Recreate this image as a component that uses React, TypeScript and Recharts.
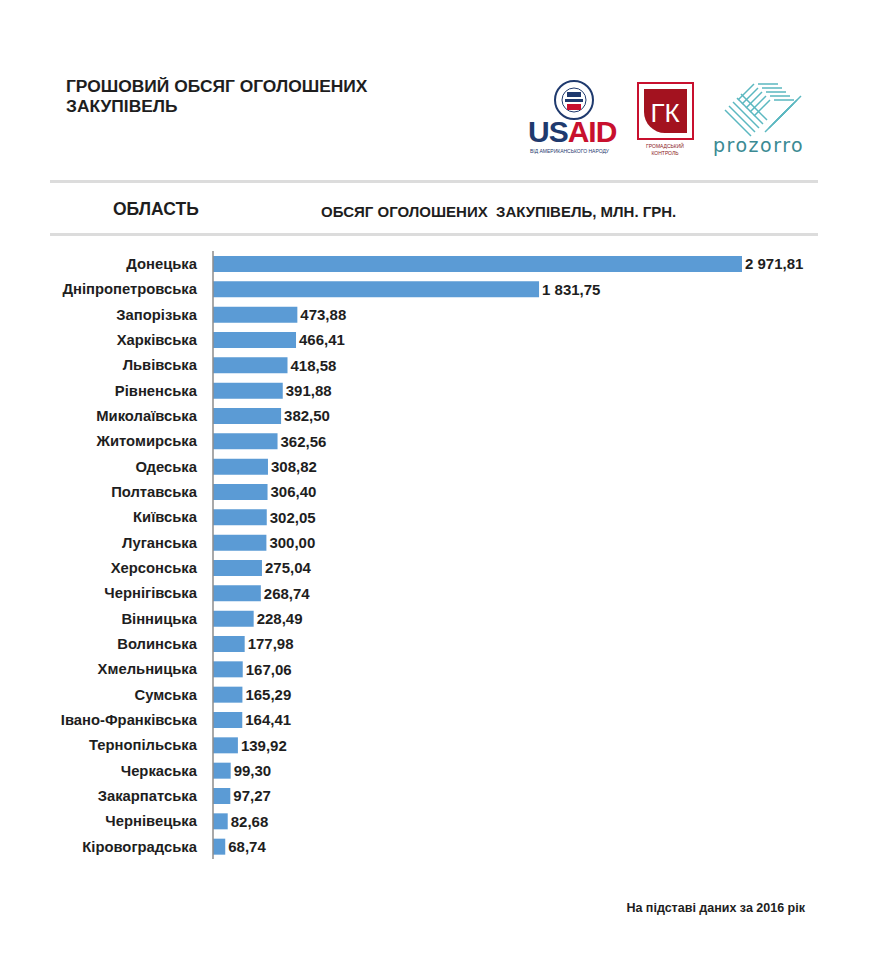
import { BarChart, Bar, XAxis, YAxis, LabelList } from 'recharts'

const regions = [
  'Донецька', 'Дніпропетровська', 'Запорізька', 'Харківська', 'Львівська', 'Рівненська',
  'Миколаївська', 'Житомирська', 'Одеська', 'Полтавська', 'Київська', 'Луганська',
  'Херсонська', 'Чернігівська', 'Вінницька', 'Волинська', 'Хмельницька', 'Сумська',
  'Івано-Франківська', 'Тернопільська', 'Черкаська', 'Закарпатська', 'Чернівецька', 'Кіровоградська',
]

const volumes = [
  2971.81, 1831.75, 473.88, 466.41, 418.58, 391.88,
  382.5, 362.56, 308.82, 306.4, 302.05, 300.0,
  275.04, 268.74, 228.49, 177.98, 167.06, 165.29,
  164.41, 139.92, 99.3, 97.27, 82.68, 68.74,
]

const data = regions.map((name, i) => ({ name, value: volumes[i] }))

const BAR = '#5b9bd5'
const TEXT = '#1e1e1e'
const FONT = '"Liberation Sans", Arial, sans-serif'

// 2971.81 -> "2 971,81"
const fmt = (v: number) => {
  const [int, dec] = Number(v).toFixed(2).split('.')
  return int.replace(/\B(?=(\d{3})+(?!\d))/g, ' ') + ',' + dec
}

function Logos() {
  return (
    <svg width={300} height={90} style={{ position: 'absolute', left: 520, top: 72 }}>
      {/* USAID */}
      <circle cx={54} cy={28} r={19} fill="#fff" stroke="#1f3a6e" strokeWidth={2} />
      <circle cx={54} cy={28} r={12} fill="#fff" stroke="#1f3a6e" strokeWidth={1} />
      <rect x={47} y={20} width={14} height={5} fill="#1f3a6e" />
      <rect x={45} y={27} width={18} height={3} fill="#1f3a6e" />
      <rect x={47} y={32} width={14} height={6} fill="#c8102e" />
      <text x={8} y={70} fontFamily={FONT} fontWeight="bold" fontSize={30} letterSpacing={-1}>
        <tspan fill="#1f3a6e">US</tspan>
        <tspan fill="#c8102e">AID</tspan>
      </text>
      <text x={10} y={81} fontFamily={FONT} fontSize={5} fill="#1f3a6e">ВІД АМЕРИКАНСЬКОГО НАРОДУ</text>
      {/* ГК */}
      <rect x={118} y={11} width={55} height={56} fill="#fff" stroke="#c8102e" strokeWidth={2} />
      <path d="M124 17 h43 v44 h-22 a21 21 0 0 1 -21 -21 z" fill="#a3121f" />
      <text x={145} y={50} textAnchor="middle" fontFamily={FONT} fontSize={26} fill="#fff">ГК</text>
      <text x={145} y={76} textAnchor="middle" fontFamily={FONT} fontSize={5} fill="#8a1a1a">ГРОМАДСЬКИЙ</text>
      <text x={145} y={83} textAnchor="middle" fontFamily={FONT} fontSize={5} fill="#8a1a1a">КОНТРОЛЬ</text>
      {/* prozorro */}
      <g stroke="#5bb8c0" strokeWidth={1.5} fill="none">
        {[0, 4, 8, 12, 16].map((d) => (
          <path key={d} d={`M${218 + d} ${28 + d} l16 -16 M${238 + d} ${12 + d} l20 0`} />
        ))}
        {[0, 4, 8, 12, 16].map((d) => (
          <path key={'b' + d} d={`M${205 + d} ${38 - d} l26 26 M${245 + d} ${60 - d} l20 -20`} />
        ))}
      </g>
      <text x={193} y={80} fontFamily={'"DejaVu Sans", sans-serif'} fontSize={19} letterSpacing={1.5} fill="#3b8a93">prozorro</text>
    </svg>
  )
}

export default function App() {
  return (
    <div style={{ position: 'absolute', left: 0, top: 0, width: 869, height: 954, background: '#fff', fontFamily: FONT, color: TEXT }}>
      <div style={{ position: 'absolute', left: 66, top: 76, fontSize: 17.4, fontWeight: 'bold', lineHeight: '20px' }}>
        ГРОШОВИЙ ОБСЯГ ОГОЛОШЕНИХ
        <br />
        ЗАКУПІВЕЛЬ
      </div>
      <Logos />
      <div style={{ position: 'absolute', left: 50, top: 180, width: 768, height: 3, background: '#dcdcdc' }} />
      <div style={{ position: 'absolute', left: 113, top: 199, fontSize: 17.5, fontWeight: 'bold' }}>ОБЛАСТЬ</div>
      <div style={{ position: 'absolute', left: 321, top: 203, fontSize: 15, fontWeight: 'bold' }}>
        ОБСЯГ ОГОЛОШЕНИХ&nbsp; ЗАКУПІВЕЛЬ, МЛН. ГРН.
      </div>
      <div style={{ position: 'absolute', left: 50, top: 233, width: 768, height: 3, background: '#dcdcdc' }} />
      <div style={{ position: 'absolute', left: 0, top: 240 }}>
        <BarChart
          width={869}
          height={630}
          data={data}
          layout="vertical"
          margin={{ top: 11, right: 33, bottom: 11, left: 0 }}
          barCategoryGap={0}
        >
          <XAxis type="number" domain={[0, 3500]} hide />
          <YAxis
            type="category"
            dataKey="name"
            width={213}
            tickLine={false}
            tickSize={0}
            tickMargin={16}
            axisLine={{ stroke: '#8c8c8c', strokeWidth: 1.5 }}
            interval={0}
            tick={{ fill: TEXT, fontSize: 14.8, fontWeight: 'bold', fontFamily: FONT }}
          />
          <Bar dataKey="value" fill={BAR} barSize={16} isAnimationActive={false}>
            <LabelList
              dataKey="value"
              position="right"
              offset={3}
              formatter={fmt}
              style={{ fill: TEXT, fontSize: 15, fontWeight: 'bold', fontFamily: FONT }}
            />
          </Bar>
        </BarChart>
      </div>
      <div style={{ position: 'absolute', right: 64, top: 901, fontSize: 12.5, fontWeight: 'bold' }}>
        На підставі даних за 2016 рік
      </div>
    </div>
  )
}
